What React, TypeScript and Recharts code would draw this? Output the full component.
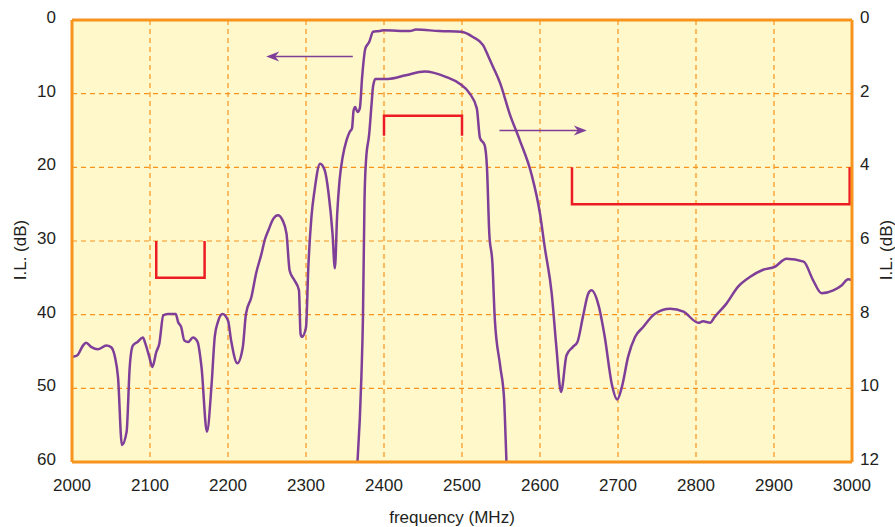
import { LineChart, Line, XAxis, YAxis, CartesianGrid, ReferenceLine, ReferenceDot, Label } from 'recharts';

// wideband response, left axis (dB)
const rejectionFreq = [
  2001, 2007, 2014, 2018, 2025, 2033, 2044, 2050, 2055, 2059, 2064, 2070, 2074, 2078, 2084, 2091, 2094, 2099,
  2103, 2108, 2112, 2117, 2123, 2133, 2136, 2140, 2144, 2149, 2155, 2161, 2166, 2173, 2179, 2183, 2187, 2193,
  2200, 2204, 2212, 2219, 2223, 2230, 2236, 2243, 2247, 2252, 2258, 2264, 2270, 2275, 2279, 2285, 2291, 2293,
  2295, 2300, 2303, 2307, 2311, 2318, 2324, 2329, 2334, 2337, 2340, 2343, 2347, 2352, 2356, 2359, 2361, 2363,
  2366, 2369, 2372, 2376, 2381, 2386, 2394, 2399, 2433, 2441, 2471, 2499, 2514, 2527, 2534, 2540, 2549, 2561,
  2574, 2589, 2600, 2606, 2615, 2621, 2627, 2634, 2642, 2648, 2655, 2662, 2666, 2675, 2683, 2692, 2699, 2705,
  2713, 2722, 2732, 2747, 2767, 2784, 2803, 2809, 2818, 2824, 2839, 2854, 2869, 2886, 2901, 2916, 2938, 2950,
  2961, 2976, 2987, 2995, 3000,
];
const rejectionDb = [
  45.7, 45.5, 44.2, 43.8, 44.4, 44.7, 44.2, 44.4, 45.7, 48.5, 57.7, 55.9, 47.1, 44.2, 43.7, 43.1, 43.9, 45.7,
  47.1, 45.1, 43.9, 40.1, 39.9, 39.9, 41.0, 41.7, 43.5, 43.7, 43.1, 43.7, 47.1, 55.9, 49.4, 43.0, 41.0, 39.9,
  40.8, 43.5, 46.6, 44.4, 39.9, 37.6, 34.4, 31.7, 29.9, 28.5, 27.0, 26.5, 27.2, 29.0, 34.0, 35.3, 36.7, 42.6,
  43.0, 41.7, 33.5, 26.7, 23.1, 19.5, 20.4, 23.6, 29.0, 33.7, 26.3, 21.8, 18.6, 16.3, 15.2, 14.7, 12.3, 11.8,
  12.5, 12.0, 7.7, 3.9, 3.0, 1.6, 1.5, 1.4, 1.5, 1.3, 1.5, 1.6, 2.3, 3.4, 5.0, 6.4, 8.6, 12.7,
  16.3, 20.9, 26.3, 30.8, 37.1, 44.4, 50.5, 45.5, 44.4, 43.7, 40.3, 37.1, 36.7, 38.7, 43.0, 49.4, 51.5, 49.8,
  45.7, 43.0, 41.7, 39.9, 39.2, 39.6, 41.1, 40.9, 41.1, 40.3, 38.5, 36.2, 34.9, 33.9, 33.5, 32.4, 32.8, 35.3,
  37.1, 36.7, 36.0, 35.2, 35.3,
];

// passband insertion loss, right axis (dB)
const passFreq = [
  2366, 2371, 2373, 2375, 2377, 2381, 2384, 2386, 2389, 2405, 2428, 2452, 2480, 2497, 2510, 2519, 2523, 2529,
  2532, 2535, 2539, 2542, 2549, 2554, 2555, 2557,
];
const passDb = [
  12.0, 9.7, 8.1, 4.9, 3.8, 3.1, 2.3, 1.8, 1.6, 1.6, 1.5, 1.4, 1.55, 1.73, 2.0, 2.4, 3.2, 3.4,
  4.0, 5.8, 6.6, 8.1, 9.4, 10.3, 10.8, 12.0,
];

// spec masks (left axis)
const maskLowFreq = [2108, 2108, 2170, 2170];
const maskLowDb = [30, 35, 35, 30];
const maskPassFreq = [2400, 2400, 2500, 2500];
const maskPassDb = [15.7, 13, 13, 15.7];
const maskHighFreq = [2641, 2641, 2997, 2997];
const maskHighDb = [20, 25, 25, 20];

const freqTicks = [2000, 2100, 2200, 2300, 2400, 2500, 2600, 2700, 2800, 2900, 3000];
const leftTicks = [0, 10, 20, 30, 40, 50, 60];
const rightTicks = [0, 2, 4, 6, 8, 10, 12];

const pairs = (fs: number[], vs: number[]) => fs.map((f, i) => ({ f, v: vs[i] }));

const rejectionData = pairs(rejectionFreq, rejectionDb);
const passData = pairs(passFreq, passDb);

const PURPLE = '#7f3f98';
const RED = '#ed1c24';
const ORANGE = '#f7941d';
const FONT = '"Liberation Sans", Arial, sans-serif';

const tickStyle = { fill: '#231f20', fontSize: 17, fontFamily: FONT };
const labelStyle = { fill: '#231f20', fontSize: 17, fontFamily: FONT, textAnchor: 'middle' as const };

const arrowHead = (dir: number) => (props: any) => {
  const { cx, cy } = props;
  const d =
    dir < 0
      ? `M${cx},${cy} L${cx + 13},${cy - 5} L${cx + 9},${cy} L${cx + 13},${cy + 5} Z`
      : `M${cx},${cy} L${cx - 13},${cy - 5} L${cx - 9},${cy} L${cx - 13},${cy + 5} Z`;
  return <path d={d} fill={PURPLE} />;
};

export default function App() {
  return (
    <div style={{ position: 'absolute', left: 0, top: 0, background: '#fff' }}>
      <LineChart width={895} height={527} margin={{ top: 20, right: 0, bottom: 0, left: 0 }}>
        <CartesianGrid
          fill="#fff8cb"
          stroke={ORANGE}
          strokeDasharray="5 4"
          strokeWidth={1.2}
          verticalValues={freqTicks}
        />
        <XAxis
          dataKey="f"
          type="number"
          domain={[2000, 3000]}
          ticks={freqTicks}
          height={65}
          tickLine={false}
          tickSize={6}
          tickMargin={11}
          tick={tickStyle}
          axisLine={{ stroke: ORANGE, strokeWidth: 3 }}
          allowDataOverflow
        >
          <Label value="frequency (MHz)" position="insideBottom" offset={4} dx={-10} style={labelStyle} />
        </XAxis>
        <YAxis
          type="number"
          domain={[0, 60]}
          ticks={leftTicks}
          reversed
          width={72}
          tickLine={false}
          tickSize={6}
          tickMargin={10}
          tick={{ ...tickStyle, dy: -3 }}
          axisLine={{ stroke: ORANGE, strokeWidth: 3 }}
          allowDataOverflow
        >
          <Label value="I.L. (dB)" position="center" angle={-90} dx={-16} dy={9} style={labelStyle} />
        </YAxis>
        <YAxis
          yAxisId="right"
          orientation="right"
          type="number"
          domain={[0, 12]}
          ticks={rightTicks}
          reversed
          width={43}
          tickLine={false}
          tickSize={6}
          tickMargin={2}
          tick={{ ...tickStyle, dy: -3 }}
          axisLine={{ stroke: ORANGE, strokeWidth: 3 }}
          allowDataOverflow
        >
          <Label value="I.L. (dB)" position="center" angle={-90} dx={12} dy={9} style={labelStyle} />
        </YAxis>
        <ReferenceLine y={0} stroke={ORANGE} strokeWidth={3} />

        <Line data={pairs(maskLowFreq, maskLowDb)} dataKey="v" type="linear" stroke={RED} strokeWidth={2.5} dot={false} isAnimationActive={false} />
        <Line data={pairs(maskPassFreq, maskPassDb)} dataKey="v" type="linear" stroke={RED} strokeWidth={2.5} dot={false} isAnimationActive={false} />
        <Line data={pairs(maskHighFreq, maskHighDb)} dataKey="v" type="linear" stroke={RED} strokeWidth={2.5} dot={false} isAnimationActive={false} />

        <Line data={rejectionData} dataKey="v" type="monotone" stroke={PURPLE} strokeWidth={2.5} dot={false} isAnimationActive={false} />
        <Line data={passData} dataKey="v" yAxisId="right" type="monotone" stroke={PURPLE} strokeWidth={2.5} dot={false} isAnimationActive={false} />

        <ReferenceLine segment={[{ x: 2360, y: 4.95 }, { x: 2258, y: 4.95 }]} stroke={PURPLE} strokeWidth={1.5} />
        <ReferenceDot x={2249} y={4.95} r={0} shape={arrowHead(-1)} />
        <ReferenceLine segment={[{ x: 2548, y: 15 }, { x: 2650, y: 15 }]} stroke={PURPLE} strokeWidth={1.5} />
        <ReferenceDot x={2660} y={15} r={0} shape={arrowHead(1)} />
      </LineChart>
    </div>
  );
}
